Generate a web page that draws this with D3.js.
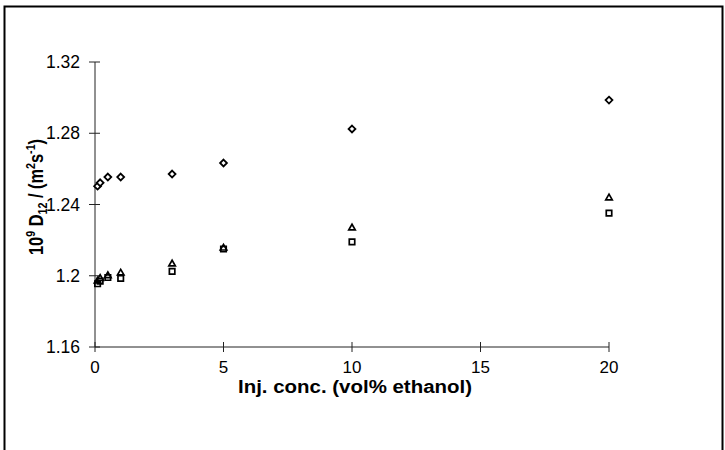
<!DOCTYPE html>
<html><head><meta charset="utf-8">
<script src="https://cdn.jsdelivr.net/npm/d3@7"></script>
<style>body{margin:0;background:#fff}svg{display:block;font-family:"Liberation Sans",Arial,sans-serif}</style>
</head><body><svg id="c" width="725" height="450"></svg>
<script>
const xValues = [0.1, 0.2, 0.5, 1, 3, 5, 10, 20];
const diamonds = [1.2503, 1.2522, 1.2554, 1.2554, 1.2571, 1.2633, 1.2824, 1.2986];
const triangles = [1.197, 1.1985, 1.2, 1.2015, 1.2066, 1.2155, 1.2268, 1.2437];
const squares = [1.1955, 1.197, 1.199, 1.1985, 1.2025, 1.215, 1.219, 1.2352];
const xTicks = [0, 5, 10, 15, 20];
const yTicks = [1.16, 1.2, 1.24, 1.28, 1.32];

const svg = d3.select("#c");
svg.append("rect").attr("x",4.5).attr("y",6.5).attr("width",718).attr("height",470)
  .attr("fill","none").attr("stroke","#000").attr("stroke-width",2);

const x = d3.scaleLinear().domain([0,20]).range([95,609]);
const y = d3.scaleLinear().domain([1.16,1.32]).range([347,62]);

const gx = svg.append("g").attr("transform","translate(0,347)");
gx.append("line").attr("x1",x(0)).attr("x2",x(20)).attr("stroke","#222");
xTicks.forEach(t=>{
  gx.append("line").attr("x1",x(t)).attr("x2",x(t)).attr("y1",-5).attr("y2",5).attr("stroke","#222");
  gx.append("text").attr("x",x(t)).attr("y",26).attr("text-anchor","middle").attr("font-size",17).text(t);
});
const gy = svg.append("g").attr("transform","translate(95,0)");
gy.append("line").attr("y1",y(1.16)).attr("y2",y(1.32)).attr("stroke","#222");
yTicks.forEach(t=>{
  gy.append("line").attr("x1",-6).attr("x2",5).attr("y1",y(t)).attr("y2",y(t)).attr("stroke","#222");
  gy.append("text").attr("x",-15).attr("y",y(t)+6).attr("text-anchor","end").attr("font-size",17.5).text(d3.format("")(+t.toFixed(2)));
});

svg.append("text").attr("x",355).attr("y",393).attr("text-anchor","middle")
  .attr("font-size",18).attr("font-weight","bold")
  .attr("textLength",234).attr("lengthAdjust","spacingAndGlyphs")
  .text("Inj. conc. (vol% ethanol)");

const yl = svg.append("text").attr("transform","translate(43,197) rotate(-90) scale(0.82,1)")
  .attr("text-anchor","middle").attr("font-size",20).attr("font-weight","bold");
yl.append("tspan").text("10");
yl.append("tspan").attr("dy",-8).attr("font-size",13).text("9");
yl.append("tspan").attr("dy",8).text(" D");
yl.append("tspan").attr("dy",4).attr("font-size",13).text("12");
yl.append("tspan").attr("dy",-4).text(" / (m");
yl.append("tspan").attr("dy",-8).attr("font-size",13).text("2");
yl.append("tspan").attr("dy",8).text("s");
yl.append("tspan").attr("dy",-8).attr("font-size",13).text("-1");
yl.append("tspan").attr("dy",8).text(")");

const pts = (arr)=>xValues.map((v,i)=>({x:v,y:arr[i]}));
svg.append("g").selectAll("path").data(pts(diamonds)).join("path")
  .attr("d",d3.symbol(d3.symbolDiamond2,30)).attr("transform",d=>`translate(${x(d.x)},${y(d.y)})`)
  .attr("fill","#fff").attr("stroke","#000").attr("stroke-width",1.8);
svg.append("g").selectAll("path").data(pts(triangles)).join("path")
  .attr("d",d3.symbol(d3.symbolTriangle2,30)).attr("transform",d=>`translate(${x(d.x)},${y(d.y)})`)
  .attr("fill","#fff").attr("stroke","#000").attr("stroke-width",1.7);
svg.append("g").selectAll("path").data(pts(squares)).join("path")
  .attr("d",d3.symbol(d3.symbolSquare2,38)).attr("transform",d=>`translate(${x(d.x)},${y(d.y)})`)
  .attr("fill","none").attr("stroke","#000").attr("stroke-width",1.7);
</script></body></html>
